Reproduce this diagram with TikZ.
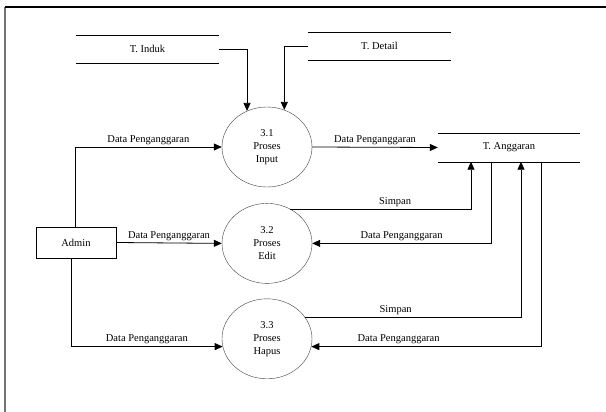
\documentclass[tikz,border=0pt]{standalone}
\usepackage{fontspec}
\setmainfont{Liberation Serif}
\usetikzlibrary{positioning,shapes.geometric,arrows.meta}

\begin{document}
\begin{tikzpicture}[x=1pt, y=-1pt,
  font=\fontsize{10.5}{13}\selectfont,
  proc/.style={draw=black!75, ellipse, minimum width=90pt, minimum height=80pt, align=center, inner sep=1pt},
  entity/.style={draw, minimum width=80pt, minimum height=31pt, inner sep=0pt},
  store/.style={minimum width=142pt, minimum height=28pt, inner sep=0pt},
  arr/.style={-{Triangle[length=8pt,width=7pt]}, line width=0.8pt},
  lbl/.style={above=1pt, inner sep=1pt}
]
\useasboundingbox (0,0) rectangle (606,412);
\clip (0,0) rectangle (606,412);

% page frame, cut off at the right and bottom
\draw[black!55, line width=1.5pt] (5,7) -- (5,420);
\draw[line width=1.2pt] (5,7) -- (615,7);

% processes stacked under each other
\node[proc] (p1) at (267,147) {3.1\\Proses\\Input};
\node[proc, below=16pt of p1] (p2) {3.2\\Proses\\Edit};
\node[proc, below=15pt of p2] (p3) {3.3\\Proses\\Hapus};

\node[entity] (admin) at (76,242.5) {Admin};

% data stores
\node[store] (induk) at (147.5,49) {T. Induk};
\node[store] (detail) at (379.5,46) {T. Detail};
\node[store] (anggaran) at (509,147.5) {T. Anggaran};
\foreach \s in {induk,detail,anggaran}{
  \draw (\s.north west) -- (\s.north east);
  \draw (\s.south west) -- (\s.south east);
}

\draw[arr] (induk.east) -| (p1.119);
\draw[arr] (detail.west) -| (p1.65);

\draw[arr] ([xshift=-1pt]admin.north) |- (p1.west) node[lbl, pos=0.75] {Data Penganggaran};
\draw[arr] (admin.east) -- (p2.west) node[lbl, midway] {Data Penganggaran};
\draw[arr] ([xshift=-5pt]admin.south) |- (p3.190) node[lbl, pos=0.75] {Data Penganggaran};

\draw[arr] (p1.east) -- (anggaran.west) node[lbl, midway] {Data Penganggaran};
\draw[arr] (p2.56) -| ([xshift=-38pt]anggaran.south) node[lbl, pos=0.29] {Simpan};
\draw[arr] ([xshift=-18pt]anggaran.south) |- (p2.east) node[lbl, pos=0.75] {Data Penganggaran};
\draw[arr] (p3.30) -| ([xshift=12pt]anggaran.south) node[lbl, pos=0.21] {Simpan};
\draw[arr] ([xshift=32pt]anggaran.south) |- (p3.-10) node[lbl, pos=0.81] {Data Penganggaran};

\end{tikzpicture}
\end{document}
